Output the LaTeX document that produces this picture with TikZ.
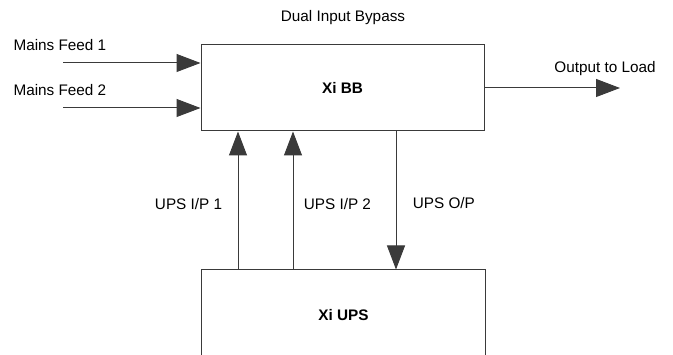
\documentclass[tikz,border=0pt]{standalone}
\usepackage{fontspec}
\setmainfont{Liberation Sans}
\usetikzlibrary{arrows.meta,positioning}
\definecolor{wiregray}{HTML}{3A3A3A}

\begin{document}
\begin{tikzpicture}[
  x=1pt,y=-1pt,
  every node/.style={font=\fontsize{15.3}{18}\selectfont,text=black},
  block/.style={draw=wiregray,line width=1pt,minimum width=283pt,minimum height=86pt,font=\fontsize{15.3}{18}\selectfont\bfseries},
  feed/.style={wiregray,line width=1pt,-{Triangle[length=24pt,width=18pt]}}
]
  \useasboundingbox (0,0) rectangle (673,355);
  % boxes
  \node[block] (bb) at (342.5,88) {Xi BB};
  \node[block,draw=none,minimum height=90pt] (ups) at (343.5,315) {Xi UPS};
  \draw[wiregray,line width=1pt] (ups.south west) |- (ups.north east) -- (ups.south east);
  \node (title) at (343,18) {Dual Input Bypass};
  % mains feeds
  \node[anchor=west] (lbl1) at (10,45) {Mains Feed 1};
  \node[anchor=west] (lbl2) at (10,90) {Mains Feed 2};
  \coordinate (m1) at (63,63);
  \coordinate (m2) at (63,108);
  \draw[feed] (m1) -- (m1 -| bb.west);
  \draw[feed] (m2) -- (m2 -| bb.west);
  % output
  \coordinate (load) at (620,88);
  \draw[feed] (bb.east) -- (load);
  \node[above=9pt of load,xshift=-15pt] (lblout) {Output to Load};
  % ups links
  \coordinate (ip1) at (238,0);
  \coordinate (ip2) at (293,0);
  \coordinate (op) at (396,0);
  \draw[feed] (ip1 |- ups.north) -- node[left=12pt,yshift=-4pt] (lblip1) {UPS I/P 1} (ip1 |- bb.south);
  \draw[feed] (ip2 |- ups.north) -- node[right=7pt,yshift=-4pt] (lblip2) {UPS I/P 2} (ip2 |- bb.south);
  \draw[feed] (op |- bb.south) -- node[right=13pt,yshift=-3pt] (lblop) {UPS O/P} (op |- ups.north);
\end{tikzpicture}
\end{document}
